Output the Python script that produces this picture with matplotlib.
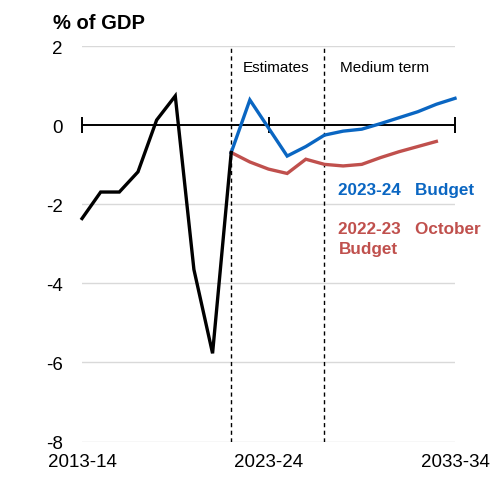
import matplotlib
matplotlib.use("Agg")
from matplotlib import pyplot as plt

plt.rcParams['font.family'] = ['Liberation Sans', 'DejaVu Sans']

# 年份索引 0 = 2013-14 ... 20 = 2033-34
years_hist = list(range(0, 9))
hist = [-2.36, -1.69, -1.69, -1.18, 0.13, 0.74, -3.65, -5.77, -0.69]

years_new = list(range(8, 21))
budget_2324 = [-0.69, 0.64, -0.07, -0.78, -0.54, -0.25, -0.15, -0.10, 0.04,
               0.19, 0.34, 0.53, 0.68]

years_old = list(range(8, 20))
budget_oct22 = [-0.69, -0.93, -1.11, -1.22, -0.86, -0.99, -1.03, -0.99,
                -0.82, -0.67, -0.54, -0.41]

tick_pos = [0, 10, 20]
tick_labels = ["2013-14", "2023-24", "2033-34"]

blue = '#0a66c2'
red = '#c0504d'

fig = plt.figure(figsize=(4.95, 4.81), dpi=100)
ax = fig.add_axes([0.1657, 0.080, 0.7535, 0.822])

ax.set_xlim(0, 20)
ax.set_ylim(-8, 2)
for s in ax.spines.values():
    s.set_visible(False)

# 网格线
for y in [2, -2, -4, -6, -8]:
    ax.axhline(y, color='#d9d9d9', lw=1, zorder=0)
ax.axhline(0, color='black', lw=1.4, zorder=1)
ax.plot(tick_pos, [0, 0, 0], ls='none', marker='|', ms=11, mew=1.4,
        color='black', clip_on=False, zorder=1)

# 阶段分隔线
for x in [8, 13]:
    ax.plot([x, x], [-8, 2], color='black', lw=1, ls=(0, (3, 2.5)), zorder=1)
ax.text(8.6, 1.47, "Estimates", fontsize=11, va='center', ha='left')
ax.text(13.85, 1.47, "Medium term", fontsize=11, va='center', ha='left')

ax.plot(years_old, budget_oct22, color=red, lw=2.4, zorder=2,
        solid_joinstyle='miter')
ax.plot(years_new, budget_2324, color=blue, lw=2.4, zorder=3,
        solid_joinstyle='miter', clip_on=False)
ax.plot(years_hist, hist, color='black', lw=2.4, zorder=4,
        solid_joinstyle='miter', clip_on=False)

ax.text(13.75, -1.62, "2023-24   Budget", color=blue, fontsize=12.3,
        fontweight='bold', va='center', ha='left')
ax.text(13.75, -2.86, "2022-23   October\nBudget", color=red, fontsize=12.3,
        fontweight='bold', va='center', ha='left', linespacing=1.38)

ax.set_yticks([2, 0, -2, -4, -6, -8])
ax.set_yticklabels(["2", "0", "-2", "-4", "-6", "-8"])
ax.set_xticks(tick_pos)
ax.set_xticklabels(tick_labels)
ax.tick_params(axis='both', length=0, labelsize=13.5)
ax.tick_params(axis='y', pad=14)
ax.tick_params(axis='x', pad=8)

fig.text(53 / 495, 1 - 29 / 481, "% of GDP", fontsize=14.5, fontweight='bold',
         va='baseline', ha='left')

fig.savefig("out.png", dpi=100)
